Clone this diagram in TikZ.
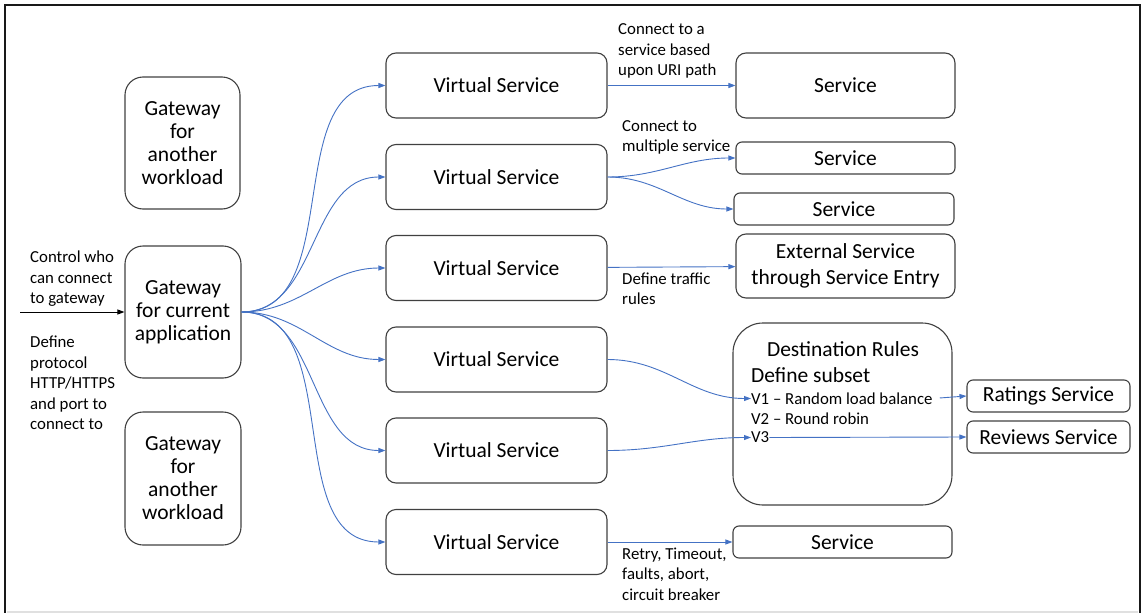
\documentclass[tikz,border=0pt]{standalone}
\usepackage{fontspec}
\setmainfont{Carlito}
\usepackage{tikz}
\usetikzlibrary{arrows.meta}
\usetikzlibrary{positioning}
\definecolor{linkblue}{RGB}{68,114,196}
\definecolor{boxgray}{RGB}{64,64,64}

\begin{document}
\begin{tikzpicture}
		[x=1pt, y=-1pt, >={Triangle[length=7pt,width=5pt]},
		box/.style={draw=boxgray, line width=1.1pt, rounded corners=10pt, align=center, inner sep=0pt, font=\fontsize{21.5}{23}\selectfont},
		note/.style={anchor=west, align=left, inner sep=0pt, font=\fontsize{16.8}{20.5}\selectfont},
		link/.style={linkblue, line width=0.9pt, ->}]
		\useasboundingbox (0,0) rectangle (1141,613);
		\draw[line width=2.5pt, black!90] (5,613) -- (5,5) -- (1140,5) -- (1140,613);
		\draw[line width=1.5pt, black!12] (7,612) -- (1138,612);
		\coordinate (in) at (20,312);
		\draw (182.5,143) node[box, rounded corners=18pt, minimum width=115pt, minimum height=132pt] (gwa) {Gateway\\for\\another\\workload};
		\draw (183,312) node[box, rounded corners=18pt, minimum width=116pt, minimum height=132pt] (gw) {Gateway\\for current\\application};
		\draw (183,478.5) node[box, rounded corners=18pt, minimum width=116pt, minimum height=133pt] (gwb) {Gateway\\for\\another\\workload};
		\draw (30,279) node[note] (who) {Control who\\can connect\\to gateway};
		\draw (30,383) node[note] (proto) {Define\\protocol\\HTTP/HTTPS\\and port to\\connect to};
		\draw (496.5,85.5) node[box, minimum width=221pt, minimum height=65pt] (vsa) {Virtual Service};
		\draw (496.5,177) node[box, minimum width=221pt, minimum height=65pt] (vsb) {Virtual Service};
		\draw (496.5,268) node[box, minimum width=221pt, minimum height=65pt] (vsc) {Virtual Service};
		\draw (496.5,359.5) node[box, minimum width=221pt, minimum height=65pt] (vsd) {Virtual Service};
		\draw (496.5,450.5) node[box, minimum width=221pt, minimum height=65pt] (vse) {Virtual Service};
		\draw (496.5,542) node[box, minimum width=221pt, minimum height=65pt] (vsf) {Virtual Service};
		\draw (845.5,85.5) node[box, minimum width=219pt, minimum height=65pt] (sa) {Service};
		\draw (845.5,158) node[box, rounded corners=6pt, minimum width=219pt, minimum height=32pt] (sb) {Service};
		\draw (844,209) node[box, rounded corners=6pt, minimum width=220pt, minimum height=32pt] (sc) {Service};
		\draw (845.5,266) node[box, minimum width=219pt, minimum height=64pt] (ext) {External Service\\[3pt]through Service Entry};
		\draw (842.5,414) node[box, rounded corners=30pt, minimum width=219pt, minimum height=182pt] (dr) {};
		\draw (843,349) node[inner sep=0pt, font=\fontsize{21.5}{23}\selectfont] (drt) {Destination Rules};
		\draw (751,375.5) node[anchor=west, inner sep=0pt, font=\fontsize{21.5}{23}\selectfont] (sub) {Define subset};
		\draw (751,398.5) node[note] (va) {V1 -- Random load balance};
		\draw (751,418.5) node[note] (vb) {V2 -- Round robin};
		\draw (751,437.5) node[note] (vc) {V3};
		\draw (1048.5,396) node[box, rounded corners=6pt, minimum width=163pt, minimum height=32pt] (rat) {Ratings Service};
		\draw (1048.5,437) node[box, rounded corners=6pt, minimum width=163pt, minimum height=32pt] (rev) {Reviews Service};
		\draw (842.5,542) node[box, rounded corners=6pt, minimum width=219pt, minimum height=32pt] (sf) {Service};
		\draw (618,51) node[note] (uri) {Connect to a\\service based\\upon URI path};
		\draw (622,137.5) node[note] (multi) {Connect to\\multiple service};
		\draw (622,289) node[note] (traffic) {Define traffic\\rules};
		\draw (622,574) node[note] (retry) {Retry, Timeout,\\faults, abort,\\circuit breaker};
		\draw[->, line width=0.9pt] (in) -- (gw);
		\draw[link] (gw.east) to[out=0, in=180] (vsa.west);
		\draw[link] (gw.east) to[out=0, in=180] (vsb.west);
		\draw[link] (gw.east) to[out=0, in=180] (vsc.west);
		\draw[link] (gw.east) to[out=0, in=180] (vsd.west);
		\draw[link] (gw.east) to[out=0, in=180] (vse.west);
		\draw[link] (gw.east) to[out=0, in=180] (vsf.west);
		\draw[link] (vsa) -- (sa);
		\draw[link] (vsb.east) to[out=0, in=180] (sb.west);
		\draw[link] (vsb.east) to[out=0, in=180] (sc.west);
		\draw[link] (vsc) -- (ext);
		\draw[link] (vsd.east) to[out=0, in=180] (va.west);
		\draw[link, shorten <=7pt] (va.east) -- (rat.west);
		\draw[link] (vse.east) to[out=0, in=180] (vc.west);
		\draw[link] (vc.east) -- (rev.west);
		\draw[link] (vsf) -- (sf);
	\end{tikzpicture}
\end{document}
